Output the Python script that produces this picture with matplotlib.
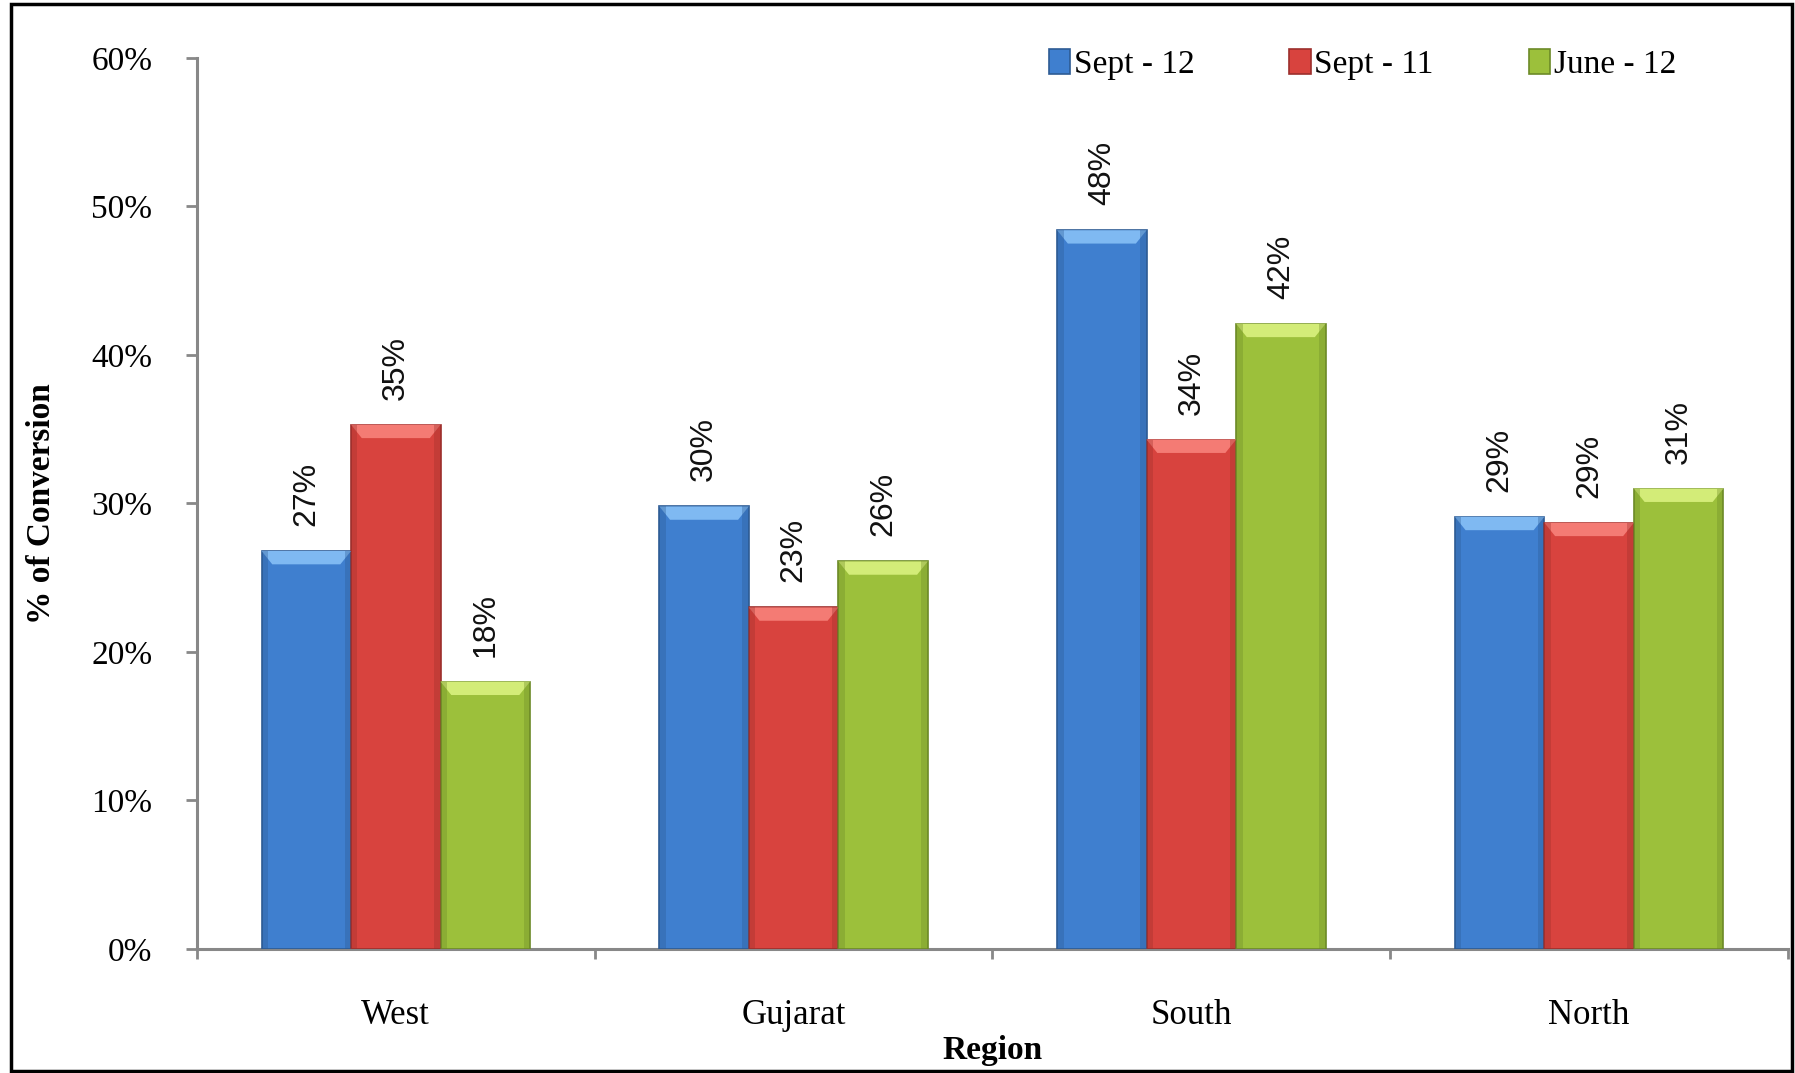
import numpy as np
import matplotlib
matplotlib.use('Agg')
import matplotlib.pyplot as plt
from matplotlib.patches import Polygon, Rectangle

regions = ['West', 'Gujarat', 'South', 'North']
series = ['Sept - 12', 'Sept - 11', 'June - 12']
sept_12 = [26.8, 29.8, 48.4, 29.1]
sept_11 = [35.3, 23.0, 34.3, 28.7]
june_12 = [18.0, 26.1, 42.1, 31.0]

colors = ['#3f7fcf', '#d8433e', '#9cc03b']
edges = ['#2d5b94', '#9c2f2c', '#6c8a27']
tops = ['#7fb9f2', '#f47b74', '#d3ec78']

serif = ['Liberation Serif', 'DejaVu Serif']
sans = ['Liberation Sans', 'DejaVu Sans']

fig = plt.figure(figsize=(17.95, 10.73), dpi=100)
ax = fig.add_axes([0.1097, 0.1156, 0.8864, 0.8304])

x = np.arange(len(regions))
w = 0.225
data = [sept_12, sept_11, june_12]
for i, vals in enumerate(data):
    xs = x + (i - 1) * w
    bars = ax.bar(xs, vals, width=w, color=colors[i], edgecolor=edges[i],
                  linewidth=1.2, label=series[i], zorder=3)
    for b, v in zip(bars, vals):
        x0, x1 = b.get_x(), b.get_x() + b.get_width()
        d = w * 0.12
        # bevelled top, lighter
        ax.add_patch(Polygon([(x0, v), (x1, v), (x1 - d, v - 0.9), (x0 + d, v - 0.9)],
                             closed=True, facecolor=tops[i], edgecolor='none', zorder=4))
        # darker side strips
        ax.add_patch(Rectangle((x0, 0), d * 0.6, v, facecolor=edges[i], alpha=0.35,
                               edgecolor='none', zorder=4))
        ax.add_patch(Rectangle((x1 - d * 0.6, 0), d * 0.6, v, facecolor=edges[i], alpha=0.35,
                               edgecolor='none', zorder=4))
        ax.annotate(f'{v:.0f}%', (b.get_x() + w / 2, v), xytext=(0, 18),
                    textcoords='offset points', rotation=90, ha='center', va='bottom',
                    fontsize=23, family=sans, color='#111111')

ax.set_xlim(-0.5, 3.5)
ax.set_ylim(0, 60)
ax.set_yticks(range(0, 61, 10))
ax.set_yticklabels([f'{t}%' for t in range(0, 61, 10)], family=serif, fontsize=24)

ax.set_xticks([-0.5, 0.5, 1.5, 2.5, 3.5])
ax.set_xticklabels([])
ax.set_xticks(x, minor=True)
ax.set_xticklabels(regions, minor=True, family=serif, fontsize=25)
ax.tick_params(axis='x', which='minor', length=0, pad=36)
ax.tick_params(axis='x', which='major', length=7, width=2, color='#888888', direction='out')
ax.tick_params(axis='y', length=8, width=2, color='#888888', direction='out', pad=24)

for s in ['top', 'right']:
    ax.spines[s].set_visible(False)
for s in ['left', 'bottom']:
    ax.spines[s].set_color('#888888')
    ax.spines[s].set_linewidth(2.2)

ax.set_xlabel('Region', family=serif, fontsize=24, fontweight='bold', labelpad=2)
ax.set_ylabel('% of Conversion', family=serif, fontsize=24, fontweight='bold', labelpad=25)

leg = fig.legend(loc='center', bbox_to_anchor=(0.759, 0.94), ncol=3, frameon=False,
                 prop={'family': serif, 'size': 24}, handlelength=0.65, handleheight=0.8,
                 handletextpad=0.1, columnspacing=2.85)

fig.patches.append(Rectangle((11 / 1795, 2 / 1073), 1781 / 1795, 1067 / 1073,
                             transform=fig.transFigure, fill=False, edgecolor='black',
                             linewidth=2.5))

fig.savefig('out.png', dpi=100)
